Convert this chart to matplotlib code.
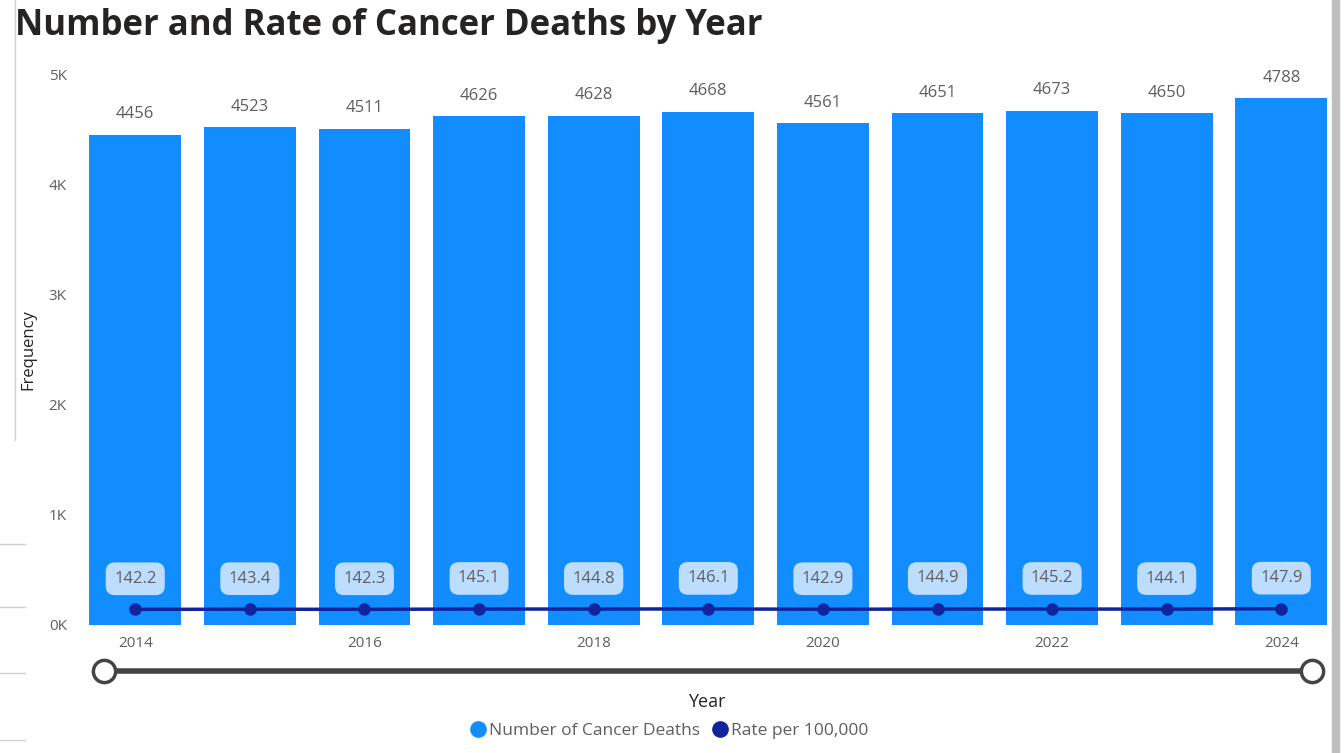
import matplotlib.pyplot as plt
from matplotlib.lines import Line2D

# data
years = [2014, 2015, 2016, 2017, 2018, 2019, 2020, 2021, 2022, 2023, 2024]
deaths = [4456, 4523, 4511, 4626, 4628, 4668, 4561, 4651, 4673, 4650, 4788]
rates = [142.2, 143.4, 142.3, 145.1, 144.8, 146.1, 142.9, 144.9, 145.2, 144.1, 147.9]
tick_years = [2014, 2016, 2018, 2020, 2022, 2024]
y_ticks = [0, 1000, 2000, 3000, 4000, 5000]
y_ticklabels = ['0K', '1K', '2K', '3K', '4K', '5K']

BAR_COLOR = '#118DFF'
LINE_COLOR = '#12239E'
TEXT_GRAY = '#605E5C'

plt.rcParams['font.family'] = ['Open Sans', 'DejaVu Sans']

fig = plt.figure(figsize=(13.44, 7.53), dpi=100)
ax = fig.add_axes([0.058, 0.17, 0.938, 0.7304])

ax.bar(years, deaths, width=0.8, color=BAR_COLOR, zorder=2)
ax.plot(years, rates, color=LINE_COLOR, lw=2.5, marker='o', ms=8, zorder=3)

# value labels above the bars
for x, v in zip(years, deaths):
    ax.annotate(str(v), (x, v), xytext=(0, 9), textcoords='offset points',
                ha='center', va='bottom', fontsize=12, color=TEXT_GRAY,
                annotation_clip=False)

# rate labels in rounded boxes
for x, r in zip(years, rates):
    ax.annotate(f'{r:.1f}', (x, r), xytext=(0, 22), textcoords='offset points',
                ha='center', va='center', fontsize=12, color=TEXT_GRAY,
                bbox=dict(boxstyle='round,pad=0.5,rounding_size=0.55',
                          fc='#BDDDFF', ec='none'), zorder=4)

ax.set_xlim(2013.5, 2024.5)
ax.set_ylim(0, 5000)
ax.set_xticks(tick_years)
ax.set_xticklabels([str(y) for y in tick_years])
ax.set_yticks(y_ticks)
ax.set_yticklabels(y_ticklabels)
ax.tick_params(length=0, labelsize=11, colors=TEXT_GRAY)
ax.tick_params(axis='x', pad=8)
ax.tick_params(axis='y', pad=8)
for s in ax.spines.values():
    s.set_visible(False)

ax.set_ylabel('Frequency', fontsize=12, color='#252423', labelpad=9)

fig.text(0.011, 0.966, 'Number and Rate of Cancer Deaths by Year',
         fontsize=25, fontweight='bold', color='#252423', ha='left', va='center')

# range slider under the axis
fig.add_artist(Line2D([104 / 1344, 1312 / 1344], [1 - 671 / 753] * 2,
                      color='#444444', lw=4, solid_capstyle='round'))
fig.add_artist(Line2D([104 / 1344, 1312 / 1344], [1 - 671 / 753] * 2,
                      ls='none', marker='o', ms=16, mfc='white',
                      mec='#444444', mew=2.5))

fig.text(707 / 1344, 1 - 702 / 753, 'Year', fontsize=13, color='#252423',
         ha='center', va='center')

handles = [Line2D([], [], ls='none', marker='o', ms=11, color=BAR_COLOR),
           Line2D([], [], ls='none', marker='o', ms=11, color=LINE_COLOR)]
fig.legend(handles, ['Number of Cancer Deaths', 'Rate per 100,000'],
           loc='center', bbox_to_anchor=(668 / 1344, 1 - 731 / 753),
           ncol=2, frameon=False, fontsize=12.5, handletextpad=0.0,
           columnspacing=0.6, labelcolor=TEXT_GRAY, handlelength=1.2)

# frame bits around the visual
fig.add_artist(Line2D([1336 / 1344] * 2, [0, 1], color='#BDBDBD', lw=6))
fig.add_artist(Line2D([15 / 1344] * 2, [1 - 440 / 753, 1], color='#D0D0D0', lw=1))
for yy in [544, 607, 673, 740]:
    fig.add_artist(Line2D([0, 25 / 1344], [1 - yy / 753] * 2, color='#D0D0D0', lw=1))

fig.savefig('out.png', dpi=100)
